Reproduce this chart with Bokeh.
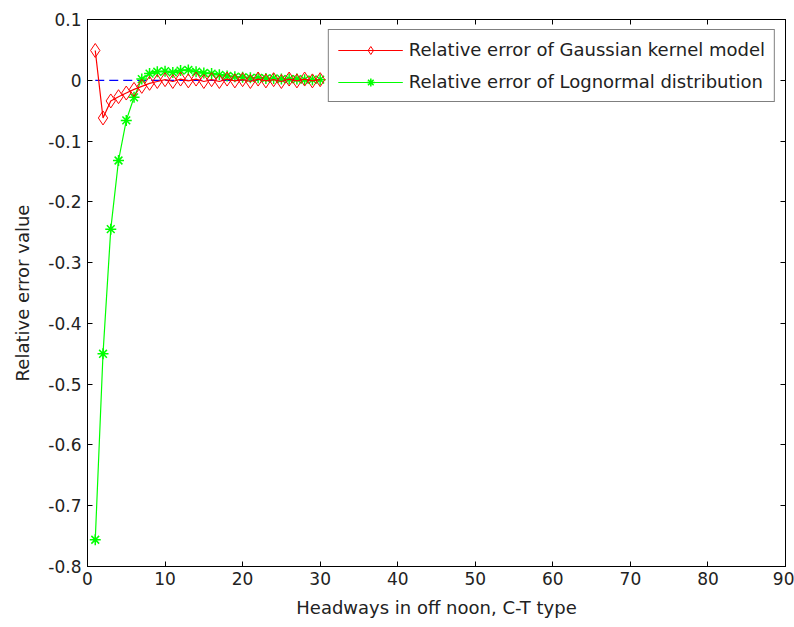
from bokeh.plotting import figure
from bokeh.models import LinearAxis, FixedTicker, Legend, LegendItem, Range1d
from bokeh.embed import file_html
from bokeh.resources import INLINE

x = list(range(1, 31))
gauss = [0.049, -0.062, -0.034, -0.027, -0.021, -0.015, -0.010, -0.005, -0.002, 0.001,
         -0.002, 0.002, -0.001, 0.002, -0.002, 0.001, -0.002, 0.002, -0.001, 0.001,
         -0.002, 0.002, -0.001, 0.001, -0.002, 0.002, -0.001, 0.002, -0.001, 0.001]
lognorm = [-0.756, -0.450, -0.245, -0.132, -0.066, -0.028, 0.002, 0.011, 0.014, 0.015,
           0.013, 0.016, 0.017, 0.014, 0.012, 0.011, 0.009, 0.007, 0.006, 0.005,
           0.004, 0.004, 0.003, 0.003, 0.002, 0.002, 0.002, 0.001, 0.001, 0.001]
zero_x = [1, 30]
zero_y = [0, 0]

x_ticks = [0, 10, 20, 30, 40, 50, 60, 70, 80, 90]
y_ticks = [-0.8, -0.7, -0.6, -0.5, -0.4, -0.3, -0.2, -0.1, 0.0, 0.1]
y_labels = ["-0.8", "-0.7", "-0.6", "-0.5", "-0.4", "-0.3", "-0.2", "-0.1", "0", "0.1"]

FONT = "DejaVu Sans"

p = figure(width=794, height=627, output_backend="svg", toolbar_location=None,
           x_range=Range1d(0, 90), y_range=Range1d(-0.8, 0.1),
           min_border_left=87, min_border_right=9, min_border_top=19, min_border_bottom=61,
           x_axis_label="Headways in off noon, C-T type", y_axis_label="Relative error value")
p.xgrid.visible = False
p.ygrid.visible = False
p.outline_line_color = "black"
p.outline_line_width = 1
p.background_fill_color = "white"
p.border_fill_color = "white"

p.xaxis.ticker = FixedTicker(ticks=x_ticks)
p.yaxis.ticker = FixedTicker(ticks=y_ticks)
p.yaxis.major_label_overrides = {t: l for t, l in zip(y_ticks, y_labels)}

for ax in (p.xaxis[0], p.yaxis[0]):
    ax.major_tick_in = 5
    ax.major_tick_out = 0
    ax.minor_tick_in = 0
    ax.minor_tick_out = 0
    ax.axis_line_color = "black"
    ax.major_tick_line_color = "black"
    ax.major_label_text_font = FONT
    ax.major_label_text_font_size = "17px"
    ax.major_label_text_color = "#222222"
    ax.axis_label_text_font = FONT
    ax.axis_label_text_font_size = "18px"
    ax.axis_label_text_font_style = "normal"
    ax.axis_label_text_color = "#222222"
p.yaxis.major_label_standoff = 6
p.xaxis.major_label_standoff = 5
p.yaxis.axis_label_standoff = 12
p.xaxis.axis_label_standoff = 9

for side, tick in (("right", y_ticks), ("above", x_ticks)):
    a = LinearAxis(ticker=FixedTicker(ticks=tick), major_tick_in=5, major_tick_out=0,
                   minor_tick_in=0, minor_tick_out=0,
                   major_label_overrides={t: "" for t in tick},
                   major_label_standoff=0, axis_line_color="black")
    p.add_layout(a, side)

p.line(zero_x, zero_y, line_color="blue", line_dash="9 5", line_width=1.3)

gl = p.line(x, lognorm, line_color="#00ff00", line_width=1.2)
gm = p.scatter(x, lognorm, marker="asterisk", size=11, line_color="#00ff00", line_width=1.5)
rl = p.line(x, gauss, line_color="red", line_width=1.2)
rm = p.scatter(x, gauss, marker="diamond", size=14, line_color="red", fill_color=None, line_width=1)

legend = Legend(items=[
    LegendItem(label="Relative error of Gaussian kernel model", renderers=[rl, rm]),
    LegendItem(label="Relative error of Lognormal distribution", renderers=[gl, gm]),
], location="top_right")
legend.label_text_font = FONT
legend.label_text_font_size = "18px"
legend.label_text_color = "#222222"
legend.border_line_color = "black"
legend.border_line_width = 1
legend.background_fill_color = "white"
legend.background_fill_alpha = 1
legend.glyph_width = 65
legend.glyph_height = 20
legend.label_standoff = 6
legend.spacing = 11
legend.padding = 9
legend.margin = 10
p.add_layout(legend)

open("out.html", "w").write(file_html(p, INLINE))
